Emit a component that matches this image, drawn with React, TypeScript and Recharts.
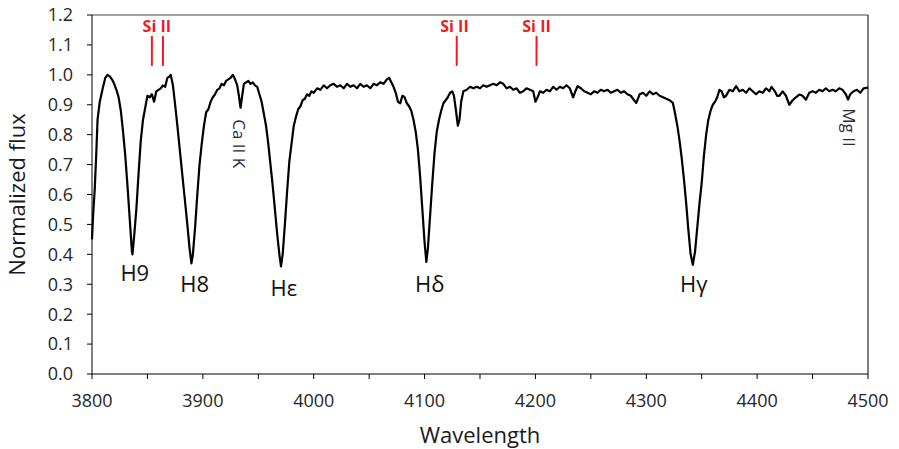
import { LineChart, Line, XAxis, YAxis, ReferenceLine, ReferenceDot, Label } from "recharts";

const wavelengths = [
  3800, 3801, 3802.5, 3804, 3805, 3807, 3810, 3812, 3814, 3816, 3818, 3820, 3822, 3824, 3826, 3828, 3830, 3832, 3834, 3836,
  3836.5, 3838, 3840, 3842, 3844, 3846, 3848, 3850, 3852, 3854, 3856, 3858, 3860, 3862, 3864, 3866, 3868, 3870, 3871, 3873,
  3875, 3877, 3880, 3883, 3886, 3888, 3889.7, 3891, 3893, 3895, 3897, 3899, 3901, 3903, 3905, 3907, 3909, 3911, 3913, 3915,
  3917, 3919, 3921, 3923, 3925, 3927, 3929, 3931, 3932.5, 3934, 3935.5, 3937, 3939, 3941, 3943, 3945, 3947, 3949, 3951, 3953,
  3955, 3957, 3959, 3961, 3963, 3965, 3967, 3969, 3970.5, 3972, 3974, 3976, 3978, 3980, 3982, 3984, 3986, 3988, 3990, 3992,
  3994, 3996, 3998, 4000, 4003, 4006, 4009, 4012, 4015, 4018, 4021, 4024, 4027, 4030, 4033, 4036, 4039, 4042, 4045, 4048,
  4051, 4054, 4057, 4060, 4063, 4066, 4068, 4070, 4072, 4074, 4076, 4078, 4080, 4082, 4084, 4086, 4088, 4090, 4092, 4094,
  4096, 4098, 4100, 4101.6, 4103, 4105, 4107, 4109, 4111, 4113, 4115, 4117, 4119, 4121, 4123, 4125, 4126.5, 4128, 4130, 4131.5,
  4133, 4135, 4138, 4141, 4144, 4147, 4150, 4153, 4156, 4159, 4162, 4165, 4168, 4171, 4174, 4177, 4180, 4183, 4186, 4189,
  4192, 4195, 4198, 4200, 4202, 4204, 4207, 4210, 4213, 4216, 4219, 4222, 4225, 4228, 4231, 4234, 4236, 4238, 4241, 4244,
  4247, 4250, 4253, 4256, 4259, 4262, 4265, 4268, 4271, 4274, 4277, 4280, 4283, 4286, 4289, 4291, 4294, 4297, 4300, 4303,
  4306, 4309, 4312, 4315, 4318, 4321, 4324, 4326, 4328, 4330, 4332, 4334, 4336, 4338, 4340, 4342, 4344, 4346, 4348, 4350,
  4352, 4354, 4356, 4358, 4360, 4362, 4364, 4366, 4368, 4370, 4372, 4375, 4378, 4381, 4384, 4387, 4390, 4393, 4396, 4399,
  4402, 4405, 4408, 4411, 4413, 4416, 4418, 4420, 4423, 4426, 4429, 4432, 4435, 4438, 4441, 4444, 4447, 4450, 4453, 4456,
  4459, 4462, 4465, 4468, 4471, 4474, 4477, 4480, 4482, 4484, 4487, 4490, 4493, 4496, 4500,
];

const flux = [
  0.45, 0.53, 0.62, 0.75, 0.85, 0.91, 0.96, 0.99, 1.0, 0.995, 0.985, 0.97, 0.95, 0.925, 0.88, 0.81, 0.73, 0.63, 0.52, 0.41,
  0.4, 0.46, 0.55, 0.67, 0.78, 0.85, 0.89, 0.93, 0.925, 0.935, 0.91, 0.945, 0.95, 0.955, 0.965, 0.96, 0.99, 0.995, 1.0, 0.965,
  0.9, 0.83, 0.72, 0.61, 0.5, 0.42, 0.37, 0.4, 0.49, 0.6, 0.7, 0.77, 0.83, 0.875, 0.885, 0.91, 0.925, 0.935, 0.95, 0.955,
  0.97, 0.965, 0.98, 0.985, 0.99, 1.0, 0.985, 0.965, 0.93, 0.89, 0.93, 0.97, 0.975, 0.98, 0.97, 0.975, 0.965, 0.96, 0.935, 0.91,
  0.87, 0.83, 0.77, 0.7, 0.63, 0.55, 0.47, 0.4, 0.36, 0.4, 0.5, 0.61, 0.71, 0.77, 0.83, 0.86, 0.885, 0.895, 0.915, 0.92,
  0.935, 0.93, 0.945, 0.94, 0.955, 0.95, 0.965, 0.955, 0.965, 0.97, 0.96, 0.965, 0.955, 0.97, 0.96, 0.965, 0.955, 0.97, 0.96, 0.965,
  0.955, 0.97, 0.965, 0.975, 0.97, 0.985, 0.99, 0.975, 0.96, 0.94, 0.91, 0.905, 0.93, 0.925, 0.905, 0.895, 0.88, 0.85, 0.81, 0.75,
  0.66, 0.55, 0.44, 0.375, 0.42, 0.53, 0.64, 0.74, 0.81, 0.85, 0.88, 0.905, 0.915, 0.925, 0.94, 0.945, 0.93, 0.89, 0.83, 0.85,
  0.91, 0.945, 0.95, 0.96, 0.955, 0.96, 0.955, 0.965, 0.96, 0.965, 0.97, 0.965, 0.975, 0.97, 0.955, 0.96, 0.95, 0.955, 0.94, 0.945,
  0.955, 0.95, 0.945, 0.91, 0.925, 0.945, 0.94, 0.95, 0.945, 0.96, 0.95, 0.96, 0.955, 0.965, 0.955, 0.925, 0.945, 0.962, 0.955, 0.945,
  0.94, 0.935, 0.945, 0.94, 0.95, 0.945, 0.95, 0.94, 0.945, 0.95, 0.94, 0.945, 0.935, 0.93, 0.915, 0.906, 0.935, 0.94, 0.93, 0.945,
  0.935, 0.94, 0.93, 0.925, 0.92, 0.915, 0.906, 0.87, 0.83, 0.78, 0.72, 0.65, 0.57, 0.48, 0.4, 0.365, 0.41, 0.49, 0.57, 0.64,
  0.73, 0.8, 0.85, 0.88, 0.9, 0.91, 0.925, 0.95, 0.945, 0.925, 0.93, 0.95, 0.945, 0.962, 0.945, 0.95, 0.94, 0.955, 0.945, 0.935,
  0.945, 0.94, 0.955, 0.945, 0.96, 0.945, 0.93, 0.93, 0.945, 0.93, 0.9, 0.915, 0.925, 0.934, 0.93, 0.917, 0.94, 0.945, 0.94, 0.95,
  0.945, 0.955, 0.945, 0.95, 0.945, 0.955, 0.95, 0.935, 0.917, 0.935, 0.945, 0.95, 0.94, 0.955, 0.957,
];

const xTicks = [3800, 3850, 3900, 3950, 4000, 4050, 4100, 4150, 4200, 4250, 4300, 4350, 4400, 4450, 4500];
const yTicks = [0, 0.1, 0.2, 0.3, 0.4, 0.5, 0.6, 0.7, 0.8, 0.9, 1.0, 1.1, 1.2];

// hydrogen line names, placed under each absorption
const balmerNames = ["H9", "H8", "Hε", "Hδ", "Hγ"];
const balmerWl = [3838.6, 3892.7, 3973, 4104.7, 4342.8];
const balmerLabelY = [0.342, 0.305, 0.292, 0.305, 0.305];

// Si II tick marks and their labels
const siMarkWl = [3854, 3864, 4129, 4201];
const siLabelWl = [3858.5, 4127, 4201];

// rotated labels for metal lines
const metalNames = ["Ca II K", "Mg II"];
const metalWl = [3933, 4483.6];
const metalLabelY = [0.77, 0.824];

const data = wavelengths.map((wl, i) => ({ wl, flux: flux[i] }));

const font = "'Open Sans', 'DejaVu Sans', sans-serif";
const tickStyle = { fill: "#262626", fontSize: 18, fontFamily: font };

export default function App() {
  return (
    <div style={{ marginLeft: -8, marginTop: -8, width: 899, height: 449, background: "#fff" }}>
      <LineChart width={899} height={449} data={data} margin={{ top: 15, right: 31, bottom: 35, left: 12 }}>
        <XAxis
          dataKey="wl"
          type="number"
          domain={[3800, 4500]}
          ticks={xTicks}
          interval={0}
          tickFormatter={(v: number) => (v % 100 === 0 ? String(v) : "")}
          stroke="#000"
          tickSize={5}
          tickMargin={15}
          height={40}
          tick={tickStyle}
        >
          <Label value="Wavelength" position="bottom" offset={13} style={{ fill: "#1a1a1a", fontSize: 22, fontFamily: font }} />
        </XAxis>
        <YAxis
          type="number"
          domain={[0, 1.2]}
          ticks={yTicks}
          interval={0}
          tickFormatter={(v: number) => v.toFixed(1)}
          stroke="#000"
          tickSize={5}
          tickMargin={14}
          width={80}
          tick={tickStyle}
        >
          <Label
            value="Normalized  flux"
            angle={-90}
            position="insideLeft"
            offset={5}
            style={{ fill: "#1a1a1a", fontSize: 22, fontFamily: font, textAnchor: "middle" }}
          />
        </YAxis>

        <ReferenceLine y={1.2} stroke="#444" strokeWidth={1} />
        <ReferenceLine x={4500} stroke="#000" strokeWidth={1} />

        {siMarkWl.map((wl) => (
          <ReferenceLine
            key={"si" + wl}
            segment={[{ x: wl, y: 1.03 }, { x: wl, y: 1.13 }]}
            stroke="#ee1c25"
            strokeWidth={2}
          />
        ))}

        <Line
          dataKey="flux"
          type="linear"
          stroke="#000"
          strokeWidth={2.2}
          strokeLinejoin="round"
          dot={false}
          isAnimationActive={false}
        />

        {siLabelWl.map((wl) => (
          <ReferenceDot
            key={"sil" + wl}
            x={wl}
            y={1.162}
            r={0}
            ifOverflow="visible"
            shape={(p: any) => (
              <text x={p.cx} y={p.cy} textAnchor="middle" dominantBaseline="central"
                fill="#ee1c25" fontSize={16} fontWeight="bold" fontFamily={font}>
                Si II
              </text>
            )}
          />
        ))}

        {balmerNames.map((name, i) => (
          <ReferenceDot
            key={name}
            x={balmerWl[i]}
            y={balmerLabelY[i]}
            r={0}
            ifOverflow="visible"
            shape={(p: any) => (
              <text x={p.cx} y={p.cy} textAnchor="middle" dominantBaseline="central"
                fill="#111" fontSize={22} fontFamily={font}>
                {name}
              </text>
            )}
          />
        ))}

        {metalNames.map((name, i) => (
          <ReferenceDot
            key={name}
            x={metalWl[i]}
            y={metalLabelY[i]}
            r={0}
            ifOverflow="visible"
            shape={(p: any) => (
              <text x={p.cx} y={p.cy} textAnchor="middle" dominantBaseline="central"
                transform={`rotate(90 ${p.cx} ${p.cy})`}
                fill="#2a2a3a" fontSize={17} fontFamily={font}>
                {name}
              </text>
            )}
          />
        ))}
      </LineChart>
    </div>
  );
}
